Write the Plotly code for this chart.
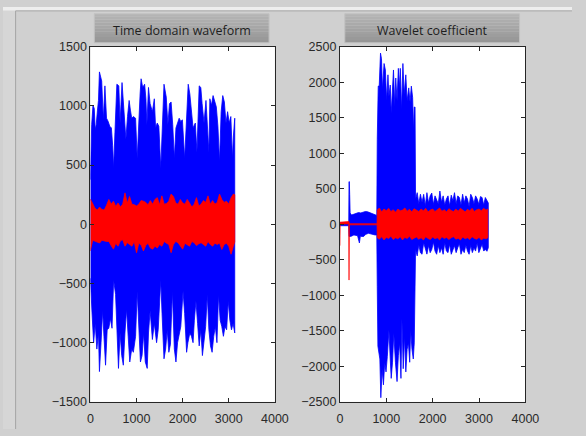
import plotly.graph_objects as go

W, H = 586, 436

# ---------------- Time domain waveform (left panel) ----------------
# envelope of the raw signal (blue): peak positions / values
td_blue_up_x = [0, 28, 56, 84, 105, 126, 154, 175, 196, 217, 245, 280, 315, 350, 385, 420, 455, 483, 504, 532,
                574, 616, 644, 686, 714, 742, 770, 805, 840, 868, 896, 931, 980, 1015, 1050, 1078, 1099, 1134,
                1176, 1204, 1225, 1260, 1295, 1344, 1386, 1414, 1449, 1484, 1526, 1554, 1596, 1645, 1680, 1715,
                1750, 1785, 1820, 1855, 1890, 1925, 1960, 1995, 2044, 2086, 2121, 2156, 2184, 2226, 2275, 2310,
                2359, 2394, 2422, 2464, 2506, 2534, 2569, 2590, 2625, 2660, 2695, 2730, 2765, 2800, 2835, 2870,
                2905, 2940, 2975, 3010, 3045, 3080, 3101, 3130]
td_blue_up_y = [377, 841, 1005, 978, 800, 841, 964, 1046, 1287, 1238, 1210, 882, 1169, 896, 869, 828, 814, 664, 473, 773,
                1183, 1169, 855, 1197, 1046, 910, 719, 910, 1046, 964, 896, 910, 896, 555, 964, 1101, 1229, 1156,
                1183, 1060, 841, 1156, 1019, 951, 1060, 814, 855, 828, 473, 787, 1183, 1074, 841, 1019,
                1033, 841, 555, 814, 855, 896, 869, 882, 555, 923, 1183, 1101, 992, 814, 855, 609,
                1169, 1156, 1019, 855, 1046, 869, 609, 1060, 1005, 1087, 1046, 992, 828, 527, 951, 1087,
                1033, 855, 951, 855, 910, 555, 746, 896]
td_blue_lo_x = [0, 35, 70, 105, 140, 175, 196, 231, 266, 294, 329, 364, 399, 434, 469, 504, 546, 574, 609, 644,
                679, 714, 749, 784, 819, 854, 896, 931, 980, 1015, 1050, 1085, 1120, 1155, 1190, 1232, 1260, 1295,
                1344, 1386, 1435, 1470, 1526, 1554, 1596, 1631, 1666, 1701, 1736, 1778, 1820, 1855, 1890, 1925,
                1960, 2009, 2044, 2086, 2114, 2156, 2191, 2226, 2254, 2289, 2324, 2359, 2394, 2429, 2464, 2499,
                2534, 2569, 2604, 2639, 2674, 2709, 2744, 2779, 2814, 2849, 2884, 2919, 2954, 2989, 3024, 3059,
                3094, 3130]
td_blue_lo_y = [-456, -742, -1000, -837, -1054, -918, -1244, -1000, -728, -946, -1190, -891, -878, -796, -878, -470, -592, -891, -1217, -918,
                -1109, -1190, -918, -715, -946, -1163, -1054, -1081, -946, -565, -891, -1163, -1109, -918, -1163, -1217, -918, -728,
                -973, -837, -1000, -891, -470, -755, -1136, -1054, -891, -1081, -1013, -565, -1054, -1163, -1000, -946,
                -864, -565, -755, -1081, -1000, -918, -946, -1000, -810, -647, -837, -1027, -891, -1109, -1000, -864,
                -592, -891, -1027, -1081, -946, -864, -1000, -592, -810, -864, -946, -864, -891, -647, -810, -891,
                -837, -918]

# envelope of the filtered signal (red)
td_red_x = [0, 50, 100, 150, 200, 250, 300, 350, 400, 450, 500, 550, 600, 650, 700, 750, 800, 850, 900, 950,
            1000, 1050, 1100, 1150, 1200, 1250, 1300, 1350, 1400, 1450, 1500, 1550, 1600, 1650, 1700, 1750, 1800,
            1850, 1900, 1950, 2000, 2050, 2100, 2150, 2200, 2250, 2300, 2350, 2400, 2450, 2500, 2550, 2600, 2650,
            2700, 2750, 2800, 2850, 2900, 2950, 3000, 3050, 3100, 3130]
td_red_up = [213, 175, 135, 120, 145, 125, 120, 160, 210, 170, 195, 150, 180, 145, 170, 265, 180, 235, 170, 165,
             155, 170, 200, 195, 185, 165, 200, 170, 210, 225, 165, 240, 170, 175, 195, 255, 235,
             180, 170, 210, 180, 170, 210, 180, 145, 170, 225, 155, 170, 200, 185, 240, 170, 200,
             170, 185, 255, 210, 185, 195, 170, 225, 255, 250]
td_red_lo = [-225, -135, -140, -150, -158, -135, -140, -145, -145, -180, -210, -160, -185, -140, -130, -185, -155, -170, -185, -145,
             -240, -160, -175, -225, -180, -160, -200, -210, -185, -200, -170, -185, -145, -160, -170, -240, -170,
             -145, -155, -185, -210, -160, -170, -185, -145, -155, -180, -165, -155, -170, -185, -145, -170, -185,
             -160, -170, -158, -212, -170, -160, -185, -253, -185, -150]

# ---------------- Wavelet coefficient (right panel) ----------------
wc_blue_up_x = [0, 190, 196, 203, 210, 220, 250, 300, 350, 400, 450, 500, 550, 600, 650, 700, 750, 795,
                805, 826, 847, 875, 896, 917, 952, 980, 1008, 1036, 1057, 1085, 1106, 1134, 1155, 1183, 1204,
                1232, 1260, 1281, 1302, 1330, 1358, 1386, 1421, 1449, 1484, 1512, 1540, 1568, 1589, 1603, 1620,
                1631, 1666, 1701, 1736, 1771, 1806, 1841, 1876, 1911, 1946, 1981, 2016, 2051, 2086, 2121, 2156,
                2191, 2226, 2261, 2296, 2331, 2366, 2401, 2436, 2471, 2506, 2541, 2576, 2611, 2646, 2681, 2716,
                2751, 2786, 2821, 2856, 2891, 2926, 2961, 2996, 3031, 3066, 3101, 3136, 3171, 3200]
wc_blue_up_y = [20, 20, 600, 600, 420, 160, 130, 140, 150, 165, 160, 175, 180, 175, 165, 150, 135, 125,
                1195, 1945, 1945, 2410, 2330, 1900, 2263, 2172, 1740, 2104, 1800, 1960, 1560, 1900, 2172, 1670, 2059,
                1740, 2195, 1920, 2195, 1605, 2263, 1832, 2104, 1740, 1920, 1718, 1945, 1785, 1309, 1650, 1650,
                355, 445, 290, 423, 310, 422, 260, 445, 300, 400, 440, 280, 400, 355, 290, 468,
                310, 400, 270, 355, 400, 260, 410, 332, 445, 290, 400, 377, 270, 423, 300, 400,
                355, 250, 423, 377, 290, 400, 355, 280, 390, 377, 270, 377, 330, 300]
wc_blue_lo_x = [0, 190, 196, 231, 301, 380, 420, 440, 511, 560, 616, 700, 756, 795,
                805, 819, 840, 861, 882, 910, 938, 966, 994, 1022, 1057, 1085, 1106, 1134, 1162, 1197, 1232,
                1260, 1288, 1316, 1337, 1365, 1393, 1421, 1449, 1477, 1505, 1526, 1554, 1582, 1603, 1617,
                1631, 1666, 1701, 1736, 1771, 1806, 1841, 1876, 1911, 1946, 1981, 2016, 2051, 2086, 2121, 2156,
                2191, 2226, 2261, 2296, 2331, 2366, 2401, 2436, 2471, 2506, 2541, 2576, 2611, 2646, 2681, 2716,
                2751, 2786, 2821, 2856, 2891, 2926, 2961, 2996, 3031, 3066, 3101, 3136, 3171, 3200]
wc_blue_lo_y = [-20, -20, -170, -172, -150, -160, -263, -170, -172, -140, -127, -140, -150, -150,
                -876, -1715, -1760, -1896, -2441, -2041, -2260, -1950, -2078, -1860, -1488, -1896, -2169, -1942, -1533, -1942, -2214,
                -1851, -1670, -2169, -1329, -2033, -1579, -2078, -1760, -1670, -1942, -1488, -1760, -1896, -1670, -1352,
                -354, -445, -290, -400, -422, -260, -330, -420, -300, -400, -354, -250, -377, -422, -300, -399,
                -331, -422, -260, -377, -399, -280, -422, -354, -300, -399, -331, -270, -422, -354, -399, -290,
                -377, -422, -300, -399, -331, -377, -260, -399, -354, -280, -377, -354, -380, -330]

wc_red_x = [0, 5, 190, 196, 203, 800,
            805, 850, 900, 950, 1000, 1050, 1100, 1150, 1200, 1250, 1300, 1350, 1400, 1450, 1500, 1550, 1600,
            1650, 1700, 1750, 1800, 1850, 1900, 1950, 2000, 2050, 2100, 2150, 2200, 2250, 2300, 2350, 2400,
            2450, 2500, 2550, 2600, 2650, 2700, 2750, 2800, 2850, 2900, 2950, 3000, 3050, 3100, 3150, 3190]
wc_red_up = [30, 30, 30, 40, 8, 8,
             200, 230, 175, 215, 190, 225, 180, 205, 170, 215, 190, 200, 230, 185, 210, 175, 220,
             195, 180, 215, 190, 225, 175, 200, 215, 180, 200, 230, 185, 205, 175, 220, 195,
             180, 215, 185, 225, 195, 175, 210, 190, 225, 180, 205, 215, 190, 225, 200, 215]
wc_red_lo = [-300, 5, 5, -785, -8, -8,
             -190, -210, -175, -220, -185, -200, -170, -215, -190, -205, -175, -220, -185, -200, -170, -215, -195,
             -180, -210, -190, -220, -175, -200, -215, -180, -205, -190, -220, -175, -200, -185, -215, -190,
             -175, -210, -195, -220, -180, -205, -190, -215, -175, -200, -210, -185, -220, -195, -205, -190]

x_ticks = [0, 1000, 2000, 3000, 4000]
td_y_ticks = [-1500, -1000, -500, 0, 500, 1000, 1500]
wc_y_ticks = [-2500, -2000, -1500, -1000, -500, 0, 500, 1000, 1500, 2000, 2500]

panel_titles = ["Time domain waveform", "Wavelet coefficient"]

BLUE = "#0000ff"
RED = "#ff0000"


def band(x_up, y_up, x_lo, y_lo, color, xa, ya, lw=0.8):
    xs = list(x_up) + list(x_lo)[::-1]
    ys = list(y_up) + list(y_lo)[::-1]
    return go.Scatter(x=xs, y=ys, mode="lines", fill="toself", fillcolor=color,
                      line=dict(color=color, width=lw), xaxis=xa, yaxis=ya,
                      hoverinfo="skip", showlegend=False)


fig = go.Figure()
fig.add_trace(band(td_blue_up_x, td_blue_up_y, td_blue_lo_x, td_blue_lo_y, BLUE, "x", "y"))
fig.add_trace(band(td_red_x, td_red_up, td_red_x, td_red_lo, RED, "x", "y"))
fig.add_trace(band(wc_blue_up_x, wc_blue_up_y, wc_blue_lo_x, wc_blue_lo_y, BLUE, "x2", "y2"))
fig.add_trace(band(wc_red_x, wc_red_up, wc_red_x, wc_red_lo, RED, "x2", "y2", lw=0.7))


def px_x(p):
    return p / W


def px_y(p):
    return 1 - p / H


AX = "#262626"
tick_font = dict(family="Liberation Sans, Arial, sans-serif", size=12.5, color="#2a2a2a")
axis_common = dict(showline=True, linecolor=AX, linewidth=1, mirror="ticks", ticks="inside",
                   ticklen=4, tickcolor=AX, tickwidth=1, showgrid=False, zeroline=False,
                   tickfont=tick_font, fixedrange=True)

fig.update_layout(
    width=W, height=H, margin=dict(l=0, r=0, t=0, b=0),
    paper_bgcolor="#d0d0d0", plot_bgcolor="#ffffff",
    xaxis=dict(domain=[px_x(90), px_x(280)], range=[0, 4000], tickvals=x_ticks, anchor="y",
               ticklabelstandoff=5, **axis_common),
    yaxis=dict(domain=[px_y(408), px_y(41)], range=[-1500, 1500], tickvals=td_y_ticks, anchor="x", **axis_common),
    xaxis2=dict(domain=[px_x(347), px_x(538)], range=[0, 4000], tickvals=x_ticks, anchor="y2",
                ticklabelstandoff=5, **axis_common),
    yaxis2=dict(domain=[px_y(408), px_y(41)], range=[-2500, 2500], tickvals=wc_y_ticks, anchor="x2", **axis_common),
)

shapes = []
# window frame
shapes.append(dict(type="rect", xref="paper", yref="paper", x0=0, x1=1, y0=px_y(4), y1=1,
                   fillcolor="#eeeeee", line=dict(width=0)))
shapes.append(dict(type="rect", xref="paper", yref="paper", x0=0, x1=px_x(13), y0=0, y1=px_y(4),
                   fillcolor="#d6d6d6", line=dict(width=0)))
shapes.append(dict(type="line", xref="paper", yref="paper", x0=px_x(13), x1=px_x(13), y0=0, y1=px_y(4),
                   line=dict(color="#a4a4a4", width=1)))
shapes.append(dict(type="line", xref="paper", yref="paper", x0=px_x(13), x1=1, y0=px_y(4), y1=px_y(4),
                   line=dict(color="#a4a4a4", width=1)))

# title boxes with a soft vertical gradient
title_boxes = [(94, 274), (352, 532)]
n_strips = 10
top_c, bot_c = (180, 180, 180), (150, 150, 150)
for (bx0, bx1) in title_boxes:
    by0, by1 = 7, 37
    step = (by1 - by0) / n_strips
    for i in range(n_strips):
        t = i / (n_strips - 1)
        c = tuple(int(round(top_c[k] + (bot_c[k] - top_c[k]) * t)) for k in range(3))
        shapes.append(dict(type="rect", xref="paper", yref="paper",
                           x0=px_x(bx0), x1=px_x(bx1),
                           y0=px_y(by0 + (i + 1) * step), y1=px_y(by0 + i * step),
                           fillcolor="rgb(%d,%d,%d)" % c, line=dict(width=0)))
    shapes.append(dict(type="rect", xref="paper", yref="paper", x0=px_x(bx0), x1=px_x(bx1),
                       y0=px_y(by1), y1=px_y(by0), line=dict(color="#c2c2c2", width=1)))
fig.update_layout(shapes=shapes)

annotations = []
for (bx0, bx1), txt in zip(title_boxes, panel_titles):
    annotations.append(dict(text=txt, xref="paper", yref="paper", x=px_x((bx0 + bx1) / 2), y=px_y(24),
                            xanchor="center", yanchor="middle", showarrow=False,
                            font=dict(family="Open Sans, Noto Sans, sans-serif", size=12.5, color="#1e1e1e")))
fig.update_layout(annotations=annotations)

fig.write_html("out.html")
